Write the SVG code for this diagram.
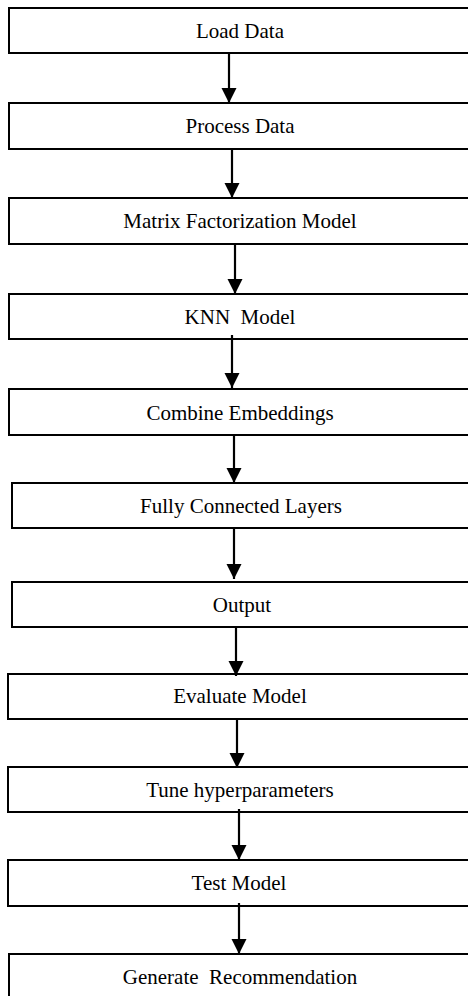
<svg xmlns="http://www.w3.org/2000/svg" width="468" height="996" viewBox="0 0 468 996">
<defs>
<style>
.box{fill:#fff;stroke:#000;stroke-width:2}
.lbl{font-family:"Liberation Serif","Times New Roman",serif;font-size:21px;fill:#000;text-anchor:middle}
.con{stroke:#000;stroke-width:2.2;fill:none}
</style>
<marker id="ah" markerUnits="userSpaceOnUse" markerWidth="16" markerHeight="16" viewBox="0 0 16 16" refX="15" refY="7.5" orient="auto">
<path d="M0,0 L15,7.5 L0,15 z" fill="#000"/>
</marker>
</defs>
<rect width="468" height="996" fill="#fff"/>
<g id="n1"><rect class="box" x="9" y="8" width="465" height="45"/><text class="lbl" x="240" y="38">Load Data</text></g>
<g id="n2"><rect class="box" x="9" y="103" width="465" height="46"/><text class="lbl" x="240" y="133">Process Data</text></g>
<g id="n3"><rect class="box" x="9" y="198" width="465" height="46"/><text class="lbl" x="240" y="228">Matrix Factorization Model</text></g>
<g id="n4"><rect class="box" x="9" y="294" width="465" height="45"/><text class="lbl" x="240" y="324" xml:space="preserve">KNN  Model</text></g>
<g id="n5"><rect class="box" x="9" y="389" width="465" height="46"/><text class="lbl" x="240" y="420">Combine Embeddings</text></g>
<g id="n6"><rect class="box" x="12" y="483" width="462" height="45"/><text class="lbl" x="241" y="513">Fully Connected Layers</text></g>
<g id="n7"><rect class="box" x="12" y="582" width="462" height="45"/><text class="lbl" x="242" y="612">Output</text></g>
<g id="n8"><rect class="box" x="8" y="674" width="466" height="45"/><text class="lbl" x="240" y="703">Evaluate Model</text></g>
<g id="n9"><rect class="box" x="8" y="767" width="466" height="45"/><text class="lbl" x="240" y="797">Tune hyperparameters</text></g>
<g id="n10"><rect class="box" x="8" y="860" width="466" height="46"/><text class="lbl" x="239" y="890">Test Model</text></g>
<g id="n11"><rect class="box" x="9" y="954" width="465" height="60"/><text class="lbl" x="240" y="984" xml:space="preserve">Generate  Recommendation</text></g>
<g id="connectors">
<line class="con" x1="229" y1="53" x2="229" y2="103" marker-end="url(#ah)"/>
<line class="con" x1="232" y1="149" x2="232" y2="198" marker-end="url(#ah)"/>
<line class="con" x1="235" y1="244" x2="235" y2="294" marker-end="url(#ah)"/>
<line class="con" x1="232" y1="335" x2="232" y2="388" marker-end="url(#ah)"/>
<line class="con" x1="234" y1="435" x2="234" y2="483" marker-end="url(#ah)"/>
<line class="con" x1="234" y1="528" x2="234" y2="579" marker-end="url(#ah)"/>
<line class="con" x1="236" y1="627" x2="236" y2="676" marker-end="url(#ah)"/>
<line class="con" x1="237" y1="719" x2="237" y2="768" marker-end="url(#ah)"/>
<line class="con" x1="239" y1="809" x2="239" y2="860" marker-end="url(#ah)"/>
<line class="con" x1="239" y1="903" x2="239" y2="954" marker-end="url(#ah)"/>
</g>
</svg>
